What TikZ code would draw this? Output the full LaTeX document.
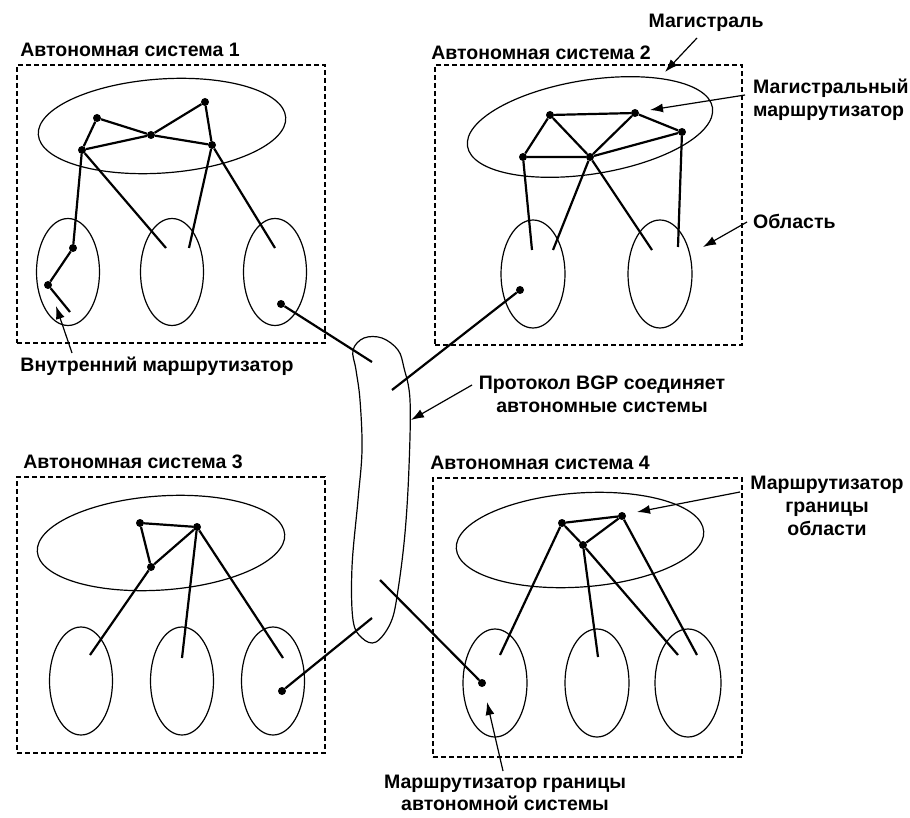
\documentclass[tikz,border=0pt]{standalone}
\usepackage{fontspec}
\setmainfont{Liberation Sans}
\usetikzlibrary{shapes.geometric,arrows.meta}
\begin{document}
\begin{tikzpicture}[x=1pt,y=-1pt,
  dot/.style={circle,fill=black,inner sep=0pt,minimum size=8pt},
  link/.style={line width=2.2pt},
  ring/.style={ellipse,draw,line width=1.2pt,inner sep=0pt},
  bigring/.style={ring,minimum width=248pt,minimum height=94pt,rotate=4},
  area/.style={ring,minimum width=63pt,minimum height=107pt},
  asbox/.style={draw,line width=1.4pt,dash pattern=on 5pt off 3pt,inner sep=0pt},
  lbl/.style={font=\fontsize{19.5}{23}\selectfont\bfseries,inner sep=0pt},
  pointer/.style={line width=1.2pt,-{Latex[length=13pt,width=9pt]}}]
\useasboundingbox (0,0) rectangle (910,818);

% ---------- AS 1 ----------
\node[lbl] (t1) at (130,50) {Автономная система 1};
\node[asbox,minimum width=308pt,minimum height=278pt] (box1) at (171,204) {};
\node[bigring] (bb1) at (162,126) {};
\node[area] (r11) at (68,272) {};
\node[area] (r12) at (172,272) {};
\node[area] (r13) at (275,272) {};
\node[dot] (a1) at (97,118) {};
\node[dot] (a2) at (205,102) {};
\node[dot] (a3) at (151,135) {};
\node[dot] (a4) at (212,145) {};
\node[dot] (a5) at (82,150) {};
\node[dot] (a6) at (73,248) {};
\node[dot] (a7) at (48,285) {};
\node[dot] (a8) at (281,304) {};
\coordinate (a7e) at (70,312);
\coordinate (e12a) at (166,248);
\coordinate (e12b) at (189,248);
\coordinate (e13) at (275,248);
\draw[link] (a1) -- (a5);
\draw[link] (a1) -- (a3) -- (a4);
\draw[link] (a5) -- (a3) -- (a2) -- (a4);
\draw[link] (a5) -- (a6) -- (a7) -- (a7e);
\draw[link] (a5) -- (e12a);
\draw[link] (a4) -- (e12b);
\draw[link] (a4) -- (e13);

% ---------- AS 2 ----------
\node[lbl] (t2) at (541,53) {Автономная система 2};
\node[asbox,minimum width=307pt,minimum height=280pt] (box2) at (588.5,205) {};
\node[bigring,rotate=5] (bb2) at (590,127) {};
\node[area,minimum width=64pt,minimum height=108pt] (r21) at (533,274) {};
\node[area,minimum width=64pt,minimum height=108pt] (r22) at (660,274) {};
\node[dot] (b1) at (550,115) {};
\node[dot] (b2) at (635,113) {};
\node[dot] (b3) at (682,132) {};
\node[dot] (b4) at (523,157) {};
\node[dot] (b5) at (590,157) {};
\node[dot] (b6) at (520,290) {};
\coordinate (e21a) at (532,250);
\coordinate (e21b) at (553,250);
\coordinate (e22a) at (652,250);
\coordinate (e22b) at (678,247);
\draw[link] (b4) -- (b1) -- (b2) -- (b3);
\draw[link] (b4) -- (b5) -- (b3);
\draw[link] (b1) -- (b5) -- (e22a);
\draw[link] (b2) -- (b5) -- (e21b);
\draw[link] (b4) -- (e21a);
\draw[link] (b3) -- (e22b);

% ---------- AS 3 ----------
\node[lbl] (t3) at (133,462) {Автономная система 3};
\node[asbox,minimum width=308pt,minimum height=276pt] (box3) at (171,615) {};
\node[bigring] (bb3) at (161,543) {};
\node[area,minimum height=108pt] (r31) at (81,681) {};
\node[area,minimum height=108pt] (r32) at (182,681) {};
\node[area,minimum height=108pt] (r33) at (273,681) {};
\node[dot] (c1) at (140,523) {};
\node[dot] (c2) at (197,527) {};
\node[dot] (c3) at (151,567) {};
\node[dot] (c4) at (282,691) {};
\coordinate (e31) at (90,655);
\coordinate (e32) at (182,658);
\coordinate (e33) at (283,658);
\draw[link] (c3) -- (c1) -- (c2) -- (c3);
\draw[link] (c3) -- (e31);
\draw[link] (c2) -- (e32);
\draw[link] (c2) -- (e33);

% ---------- AS 4 ----------
\node[lbl] (t4) at (540,463) {Автономная система 4};
\node[asbox,minimum width=309pt,minimum height=279pt] (box4) at (587.5,617.5) {};
\node[bigring] (bb4) at (580,540) {};
\node[area,minimum width=64pt,minimum height=108pt] (r41) at (495,683) {};
\node[area,minimum width=64pt,minimum height=108pt] (r42) at (597,683) {};
\node[area,minimum width=66pt,minimum height=108pt] (r43) at (688,683) {};
\node[dot] (d1) at (562,523) {};
\node[dot] (d2) at (622,516) {};
\node[dot] (d3) at (583,545) {};
\node[dot] (d4) at (482,683) {};
\coordinate (e41) at (500,655);
\coordinate (e42) at (598,657);
\coordinate (e43a) at (678,655);
\coordinate (e43b) at (697,655);
\draw[link] (d3) -- (d1) -- (d2) -- (d3);
\draw[link] (d1) -- (e41);
\draw[link] (d3) -- (e42);
\draw[link] (d3) -- (e43a);
\draw[link] (d2) -- (e43b);

% ---------- BGP blob ----------
\draw[line width=1.2pt] plot[smooth cycle,tension=0.6] coordinates {
  (353,350) (364,338) (382,338) (398,350) (404,368) (410,400)
  (409,467) (405,533) (398,590) (391,622) (376,642) (362,638)
  (353,620) (352,567) (358,500) (362,450) (360,400) (356,370)};
\coordinate (g1) at (372,362);
\coordinate (g2) at (392,390);
\coordinate (g3) at (372,618);
\coordinate (g4) at (380,580);
\draw[link] (a8) -- (g1);
\draw[link] (b6) -- (g2);
\draw[link] (c4) -- (g3);
\draw[link] (g4) -- (d4);

% ---------- labels with pointers ----------
\node[lbl] (lmag) at (706,23) {Магистраль};
\coordinate (pmag) at (697,38);
\coordinate (hmag) at (665,72);
\draw[pointer] (pmag) -- (hmag);

\node[lbl,anchor=west,align=left] (lbr) at (753,100) {Магистральный\\маршрутизатор};
\coordinate (pbr) at (745,95);
\coordinate (hbr) at (650,110);
\draw[pointer] (pbr) -- (hbr);

\node[lbl,anchor=west] (lar) at (753,221) {Область};
\coordinate (par) at (747,222);
\coordinate (har) at (703,247);
\draw[pointer] (par) -- (har);

\node[lbl] (lin) at (157,366) {Внутренний маршрутизатор};
\coordinate (pin) at (72,353);
\coordinate (hin) at (56,306);
\draw[pointer] (pin) -- (hin);

\node[lbl,align=center] (lbgp) at (602,394) {Протокол BGP соединяет\\автономные системы};
\coordinate (pbgp) at (472,385);
\coordinate (hbgp) at (411,420);
\draw[pointer] (pbgp) -- (hbgp);

\node[lbl,align=center] (labr) at (827,506) {Маршрутизатор\\границы\\области};
\coordinate (pabr) at (740,492);
\coordinate (habr) at (637,512);
\draw[pointer] (pabr) -- (habr);

\node[lbl,align=center,font=\fontsize{19.5}{21.5}\selectfont\bfseries] (lasbr) at (505,793) {Маршрутизатор границы\\автономной системы};
\coordinate (pasbr) at (503,771);
\coordinate (hasbr) at (487,702);
\draw[pointer] (pasbr) -- (hasbr);
\end{tikzpicture}
\end{document}
